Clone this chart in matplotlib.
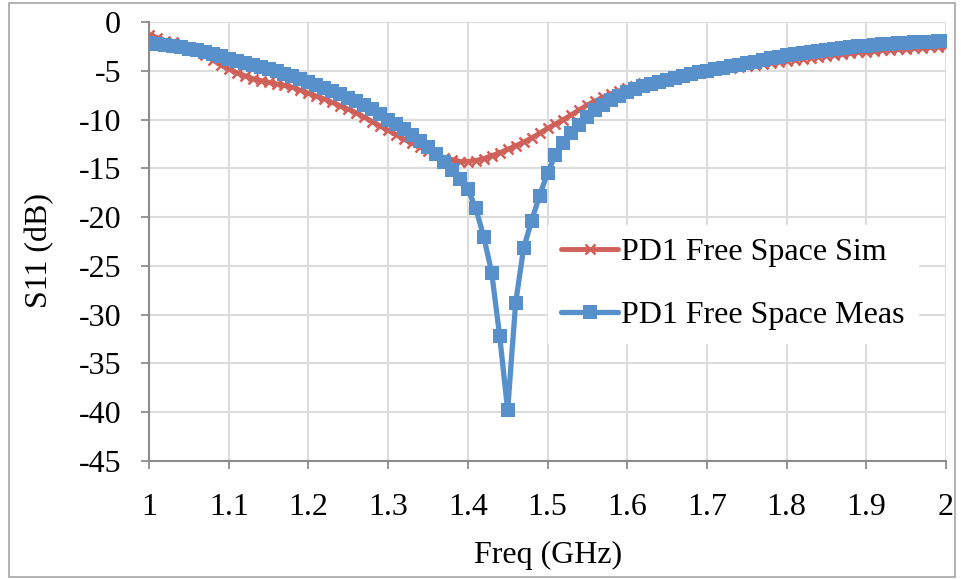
import matplotlib.pyplot as plt
import numpy as np
from matplotlib.patches import Rectangle

plt.rcParams['font.family'] = ['Liberation Serif', 'DejaVu Serif']
plt.rcParams['axes.unicode_minus'] = False

# Frequency axis (GHz), 0.01 GHz steps
freq = np.round(np.arange(1.00, 2.001, 0.01), 2)

# PD1 Free Space Sim (dB)
sim = [-1.3, -1.6, -1.9, -2.1, -2.4, -2.7, -3.0, -3.4, -3.9, -4.4,
       -4.8, -5.2, -5.5, -5.8, -6.0, -6.2, -6.35, -6.5, -6.7, -7.0,
       -7.3, -7.6, -7.9, -8.25, -8.6, -8.95, -9.3, -9.75, -10.2, -10.65,
       -11.1, -11.55, -12.0, -12.4, -12.8, -13.2, -13.6, -13.9, -14.1, -14.3,
       -14.3, -14.2, -14.0, -13.7, -13.4, -13.05, -12.7, -12.3, -11.9, -11.4,
       -10.9, -10.45, -10.0, -9.5, -9.0, -8.5, -8.1, -7.7, -7.35, -7.05,
       -6.8, -6.55, -6.3, -6.1, -5.9, -5.75, -5.6, -5.45, -5.3, -5.2,
       -5.1, -4.95, -4.85, -4.7, -4.6, -4.5, -4.4, -4.3, -4.2, -4.05,
       -3.95, -3.85, -3.75, -3.65, -3.55, -3.45, -3.35, -3.3, -3.2, -3.1,
       -3.05, -3.0, -2.9, -2.85, -2.8, -2.75, -2.7, -2.65, -2.6, -2.55,
       -2.5]

# PD1 Free Space Meas (dB)
meas = [-2.2, -2.25, -2.35, -2.45, -2.6, -2.75, -2.9, -3.1, -3.3, -3.5,
        -3.8, -4.0, -4.2, -4.4, -4.6, -4.8, -5.05, -5.3, -5.55, -5.85,
        -6.15, -6.45, -6.75, -7.05, -7.4, -7.75, -8.1, -8.5, -8.9, -9.45,
        -10.0, -10.5, -11.0, -11.6, -12.2, -12.8, -13.5, -14.3, -15.2, -16.1,
        -17.1, -19.1, -22.0, -25.7, -32.2, -39.8, -28.8, -23.2, -20.4, -17.8,
        -15.5, -13.6, -12.4, -11.4, -10.55, -9.7, -9.0, -8.5, -8.0, -7.6,
        -7.2, -6.9, -6.6, -6.35, -6.1, -5.9, -5.7, -5.5, -5.3, -5.15,
        -5.0, -4.85, -4.7, -4.55, -4.4, -4.2, -4.05, -3.9, -3.7, -3.55,
        -3.4, -3.3, -3.2, -3.1, -3.0, -2.9, -2.8, -2.7, -2.6, -2.5,
        -2.45, -2.4, -2.3, -2.25, -2.2, -2.15, -2.1, -2.05, -2.0, -1.95,
        -1.9]

x_ticks = np.round(np.arange(1.0, 2.01, 0.1), 1)
x_labels = ['1', '1.1', '1.2', '1.3', '1.4', '1.5', '1.6', '1.7', '1.8', '1.9', '2']
y_ticks = np.arange(-45, 1, 5)

red = '#D0605A'
blue = '#5890CB'
axis_gray = '#8C8C8C'
grid_gray = '#DCDCDC'
fs = 23

W, H = 961, 579
fig = plt.figure(figsize=(W / 100, H / 100), dpi=100)
ax = fig.add_axes([149 / W, 1 - 461 / H, (946 - 149) / W, (461 - 22) / H])

ax.plot(freq, sim, color=red, lw=3.5, marker='x', markersize=7.5, mew=1.8,
        label='PD1 Free Space Sim', solid_capstyle='round', zorder=3)
ax.plot(freq, meas, color=blue, lw=3.8, marker='s', markersize=10.5, mew=0,
        label='PD1 Free Space Meas', solid_capstyle='round', zorder=4)

ax.set_xlim(1, 2)
ax.set_ylim(-45, 0)
ax.set_xticks(x_ticks)
ax.set_xticklabels(x_labels)
ax.set_yticks(y_ticks)
ax.grid(True, color=grid_gray, lw=1.5, zorder=0)
ax.set_axisbelow(True)

for side in ['top', 'right']:
    ax.spines[side].set_visible(False)
for side in ['left', 'bottom']:
    ax.spines[side].set_color(axis_gray)
    ax.spines[side].set_linewidth(1.5)
ax.tick_params(axis='both', direction='out', length=6, width=1.3, color=axis_gray,
               labelsize=fs, labelcolor='black')
ax.tick_params(axis='x', pad=17)
ax.tick_params(axis='y', pad=14)

fig.text(548 / W, 1 - 555 / H, 'Freq (GHz)', ha='center', va='center', fontsize=fs)
fig.text(40 / W, 1 - 250 / H, 'S11 (dB)', ha='center', va='center', rotation=90, fontsize=fs)

leg = ax.legend(loc='center left', bbox_to_anchor=(548 / W, 1 - 284 / H),
                bbox_transform=fig.transFigure, frameon=True, fancybox=False,
                fontsize=fs, handlelength=1.8, handletextpad=0.1, labelspacing=1.05,
                numpoints=1, borderpad=0.4, borderaxespad=0)
leg.get_frame().set_edgecolor('white')
leg.get_frame().set_facecolor('white')
leg.get_frame().set_alpha(1)
leg.set_zorder(5)

# chart-area border
fig.patches.append(Rectangle((9 / W, 1 - 577 / H), (955 - 9) / W, (577 - 3) / H,
                             transform=fig.transFigure, fill=False,
                             edgecolor='#A6A6A6', lw=1.2))

fig.savefig('out.png', dpi=100)
